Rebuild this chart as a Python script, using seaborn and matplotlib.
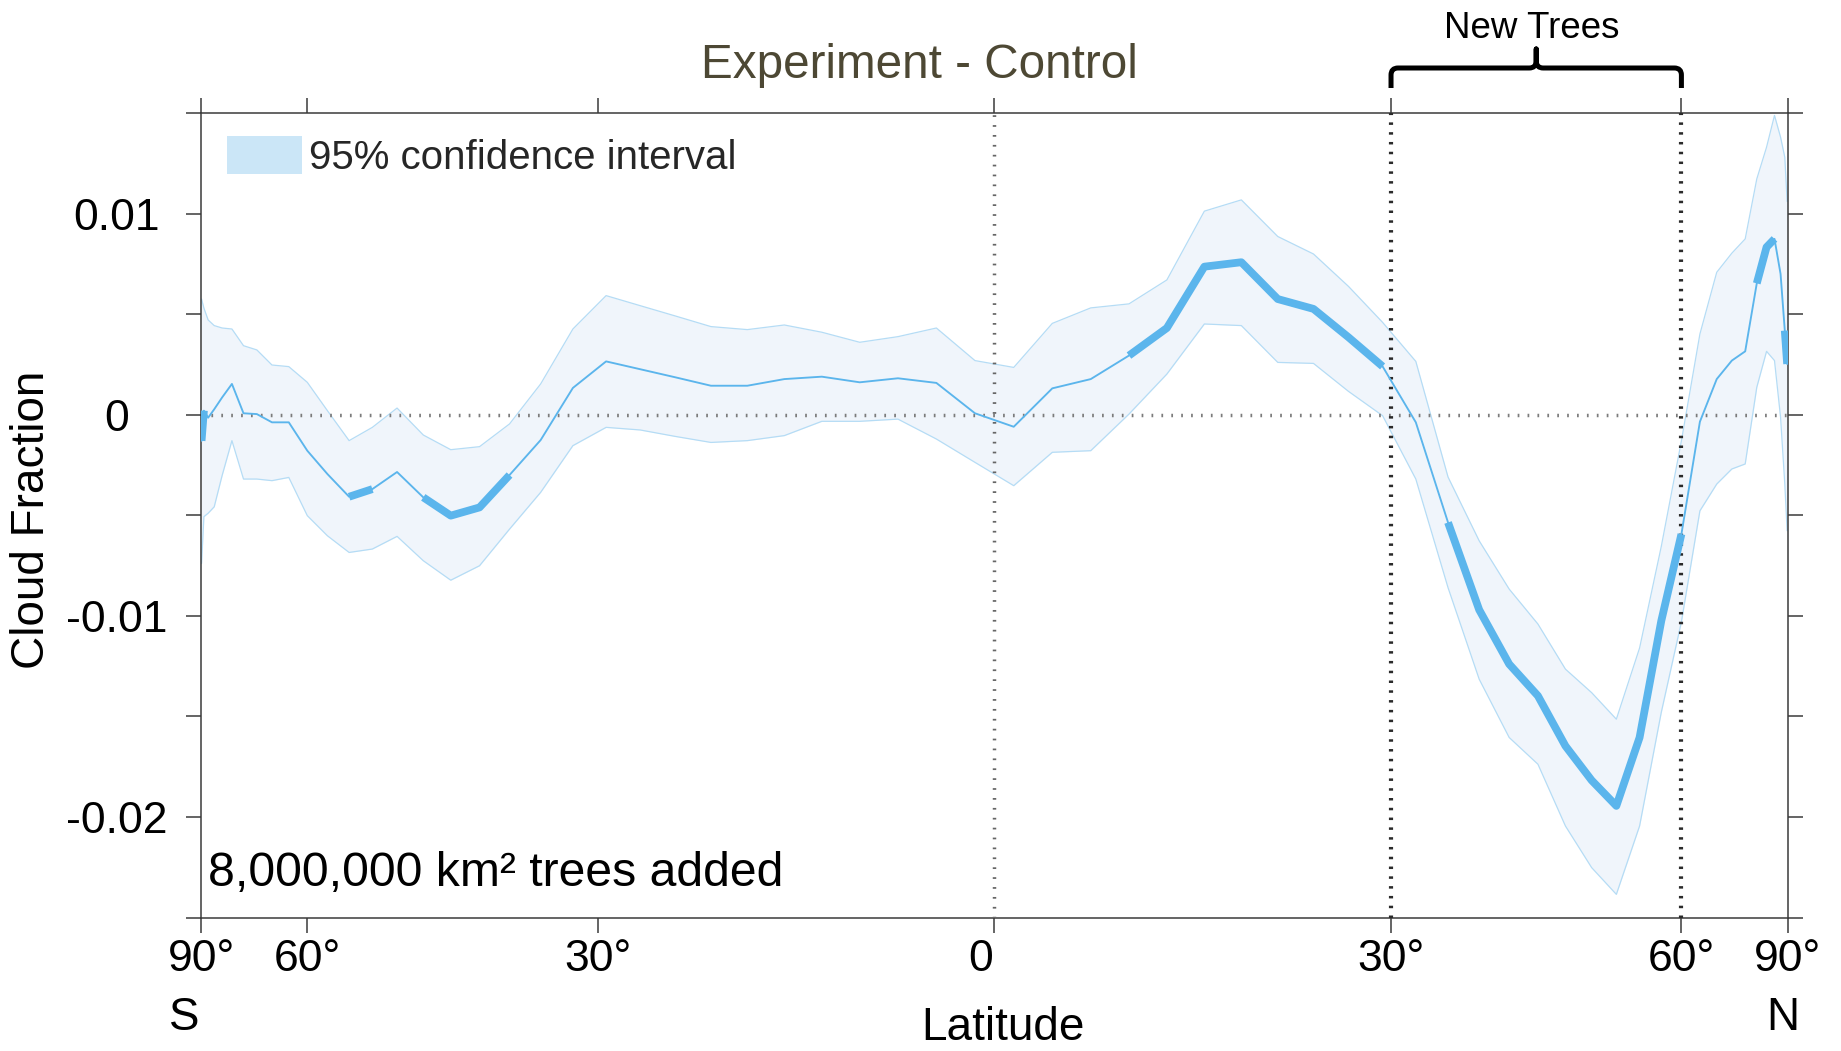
import numpy as np
import pandas as pd
import matplotlib
matplotlib.use("Agg")
import matplotlib.pyplot as plt
import seaborn as sns
from matplotlib.patches import Patch, PathPatch
from matplotlib.path import Path
from matplotlib.transforms import ScaledTranslation

# ---------------- data ----------------
latitude = [-87.86, -85.10, -82.31, -79.53, -76.74, -73.95, -71.16, -68.37, -65.58, -62.79,
            -60.00, -57.21, -54.42, -51.63, -48.84, -46.04, -43.25, -40.46, -37.67, -34.88,
            -32.09, -29.30, -26.51, -23.72, -20.93, -18.14, -15.35, -12.56, -9.77, -6.98,
            -4.19, -1.40, 1.40, 4.19, 6.98, 9.77, 12.56, 15.35, 18.14, 20.93,
            23.72, 26.51, 29.30, 32.09, 34.88, 37.67, 40.46, 43.25, 46.04, 48.84,
            51.63, 54.42, 57.21, 60.00, 62.79, 65.58, 68.37, 71.16, 73.95, 76.74,
            79.53, 82.31, 85.10, 87.86]

cloud_diff = [-0.00130, 0.00020, -0.00015, 0.00027, 0.00086, 0.00153, 0.00007, 0.00003, -0.00038, -0.00038,
              -0.00179, -0.00295, -0.00408, -0.00370, -0.00285, -0.00411, -0.00502, -0.00461, -0.00300, -0.00126,
              0.00133, 0.00265, 0.00226, 0.00186, 0.00144, 0.00144, 0.00177, 0.00189, 0.00161, 0.00181,
              0.00158, 0.00007, -0.00060, 0.00131, 0.00177, 0.00294, 0.00431, 0.00736, 0.00758, 0.00575,
              0.00526, 0.00385, 0.00240, -0.00038, -0.00536, -0.00970, -0.01240, -0.01398, -0.01647, -0.01818,
              -0.01945, -0.01605, -0.01025, -0.00594, -0.00035, 0.00177, 0.00269, 0.00315, 0.00653, 0.00833,
              0.00874, 0.00700, 0.00418, 0.00252]

ci_upper = [0.00575, 0.00530, 0.00471, 0.00443, 0.00431, 0.00426, 0.00343, 0.00322, 0.00247, 0.00239,
            0.00161, 0.00020, -0.00129, -0.00063, 0.00033, -0.00101, -0.00174, -0.00159, -0.00046, 0.00153,
            0.00426, 0.00592, 0.00542, 0.00491, 0.00438, 0.00423, 0.00446, 0.00410, 0.00360, 0.00388,
            0.00431, 0.00269, 0.00235, 0.00454, 0.00531, 0.00551, 0.00670, 0.01012, 0.01068, 0.00886,
            0.00799, 0.00638, 0.00459, 0.00265, -0.00310, -0.00627, -0.00867, -0.01041, -0.01265, -0.01382,
            -0.01514, -0.01160, -0.00655, -0.00130, 0.00401, 0.00708, 0.00803, 0.00874, 0.01172, 0.01330,
            0.01488, 0.01380, 0.01280, 0.01060]

ci_lower = [-0.00740, -0.00507, -0.00490, -0.00458, -0.00302, -0.00129, -0.00320, -0.00320, -0.00328, -0.00312,
            -0.00502, -0.00602, -0.00685, -0.00668, -0.00605, -0.00726, -0.00823, -0.00751, -0.00569, -0.00386,
            -0.00154, -0.00063, -0.00076, -0.00108, -0.00138, -0.00129, -0.00104, -0.00033, -0.00033, -0.00022,
            -0.00121, -0.00237, -0.00353, -0.00187, -0.00179, 0.00003, 0.00202, 0.00451, 0.00443, 0.00260,
            0.00255, 0.00116, -0.00005, -0.00320, -0.00860, -0.01315, -0.01605, -0.01738, -0.02045, -0.02252,
            -0.02385, -0.02045, -0.01480, -0.01030, -0.00478, -0.00345, -0.00270, -0.00245, 0.00136, 0.00315,
            0.00269, -0.00013, -0.00345, -0.00577]

significant = [1, 1, 0, 0, 0, 0, 0, 0, 0, 0,
               0, 0, 1, 1, 0, 1, 1, 1, 1, 0,
               0, 0, 0, 0, 0, 0, 0, 0, 0, 0,
               0, 0, 0, 0, 0, 1, 1, 1, 1, 1,
               1, 1, 1, 0, 1, 1, 1, 1, 1, 1,
               1, 1, 1, 1, 0, 0, 0, 0, 1, 1,
               1, 0, 1, 1]

x_ticks = [-90, -60, -30, 0, 30, 60, 90]
x_ticklabels = ["90°", "60°", "30°", "0", "30°", "60°", "90°"]
y_ticks = [-0.025, -0.02, -0.015, -0.01, -0.005, 0.0, 0.005, 0.01, 0.015]
y_ticklabels = ["", "-0.02", "", "-0.01", "", "0", "", "0.01", ""]

# ---------------- style ----------------
sns.set_theme(style="ticks")
plt.rcParams['font.family'] = ['Liberation Sans', 'DejaVu Sans']

BLUE = '#5bb5ec'
FILL = '#f0f5fb'
EDGE = '#b5dcf5'
SPINE = '#3a3a3a'

df = pd.DataFrame({'lat': latitude, 'diff': cloud_diff, 'upper': ci_upper,
                   'lower': ci_lower, 'sig': significant})
# significant runs -> segment ids
run_id = (df['sig'] != df['sig'].shift()).cumsum()
sig_df = df[df['sig'] == 1].assign(seg=run_id[df['sig'] == 1])

W, H = 1841, 1051
fig = plt.figure(figsize=(W / 100, H / 100), dpi=100)
fig.patch.set_facecolor('white')
ax = fig.add_axes([201 / W, (H - 917.5) / H, 1586.7 / W, 804.5 / H])
ax.set_facecolor('white')


def _fwd(x):
    return np.sin(np.deg2rad(np.clip(x, -90, 90)))


def _inv(y):
    return np.rad2deg(np.arcsin(np.clip(y, -1, 1)))


ax.set_xscale('function', functions=(_fwd, _inv))
ax.set_xlim(-90, 90)
ax.set_ylim(-0.025, 0.015)

# confidence band
ax.fill_between(df['lat'], df['lower'], df['upper'], color=FILL, lw=0, zorder=1)
sns.lineplot(data=df, x='lat', y='upper', estimator=None, sort=False, color=EDGE, lw=0.9, ax=ax, zorder=2)
sns.lineplot(data=df, x='lat', y='lower', estimator=None, sort=False, color=EDGE, lw=0.9, ax=ax, zorder=2)

# reference lines
ax.axhline(0, color='#7c7c7c', lw=2.5, ls=(0, (0.5, 2.35)), zorder=3)
ax.axvline(0, color='#666666', lw=2.5, ls=(0, (0.5, 2.35)), zorder=3)
for xv in (30, 60):
    ax.axvline(xv, color='#2a2a2a', lw=3.0, ls=(0, (0.6, 1.75)), zorder=3)

# mean difference, thin + thick where significant
sns.lineplot(data=df, x='lat', y='diff', estimator=None, sort=False, color=BLUE, lw=1.35, ax=ax, zorder=5)
sns.lineplot(data=sig_df, x='lat', y='diff', units='seg', estimator=None, sort=False,
             color=BLUE, lw=5.6, ax=ax, zorder=6, solid_capstyle='butt')

# axes, ticks
for s in ax.spines.values():
    s.set_visible(True)
    s.set_color(SPINE)
    s.set_linewidth(1.1)
ax.set_xticks(x_ticks)
ax.set_xticklabels(x_ticklabels)
ax.set_yticks(y_ticks)
ax.set_yticklabels(y_ticklabels)
ax.tick_params(which='both', direction='out', length=10.8, width=1.1, color=SPINE,
               top=True, right=True, labeltop=False, labelright=False, labelcolor='black')
ax.tick_params(axis='x', labelsize=32, pad=5)
ax.tick_params(axis='y', labelsize=32, pad=50)
for t in ax.get_yticklabels():
    t.set_ha('center')
zero_lab = ax.get_xticklabels()[3]
zero_lab.set_transform(zero_lab.get_transform() + ScaledTranslation(-14 / 100, 0, fig.dpi_scale_trans))

ax.set_xlabel('Latitude', fontsize=33, color='black')
ax.xaxis.set_label_coords((1003 - 201) / 1586.7, (917.5 - 1040) / 804.5)
ax.xaxis.label.set_va('baseline')
ax.set_ylabel('Cloud Fraction', fontsize=33, color='black')
ax.yaxis.set_label_coords((32 - 201) / 1586.7, (917.5 - 520) / 804.5)
ax.yaxis.label.set_va('center')

# legend
ax.legend(handles=[Patch(facecolor='#cbe6f7', edgecolor='none', label='95% confidence interval')],
          loc='upper left', bbox_to_anchor=((227 - 201) / 1586.7, 1 - (136 - 113) / 804.5),
          frameon=False, fontsize=29, handlelength=1.86, handleheight=1.08,
          handletextpad=0.17, borderpad=0, borderaxespad=0)

ax.text((208 - 201) / 1586.7, (917.5 - 886) / 804.5, '8,000,000 km² trees added',
        transform=ax.transAxes, fontsize=34.7, ha='left', va='baseline', color='black')

# figure texts
fig.text(919.5 / W, 1 - 78 / H, 'Experiment - Control', ha='center', va='baseline',
         fontsize=34.3, color='#4d4834')
fig.text(1532 / W, 1 - 38 / H, 'New Trees', ha='center', va='baseline', fontsize=26.5, color='black')
fig.text(184 / W, 1 - 1030 / H, 'S', ha='center', va='baseline', fontsize=33, color='black')
fig.text(1783 / W, 1 - 1030 / H, 'N', ha='center', va='baseline', fontsize=33, color='black')

# brace over the new-trees band (between the 30N and 60N lines)
xl = ax.transData.transform((30, 0))[0]
xr = ax.transData.transform((60, 0))[0]
xm = 0.5 * (xl + xr)
yh, ye, yt, r = H - 68, H - 88, H - 49, 7
verts = [(xl, ye), (xl, yh - r), (xl, yh), (xl + r, yh), (xm - r, yh), (xm, yh), (xm, yh + r),
         (xm, yt), (xm, yh + r), (xm, yh), (xm + r, yh), (xr - r, yh), (xr, yh), (xr, yh - r), (xr, ye)]
codes = [Path.MOVETO, Path.LINETO, Path.CURVE3, Path.CURVE3, Path.LINETO, Path.CURVE3, Path.CURVE3,
         Path.LINETO, Path.LINETO, Path.CURVE3, Path.CURVE3, Path.LINETO, Path.CURVE3, Path.CURVE3, Path.LINETO]
verts = [(vx / W, vy / H) for vx, vy in verts]
fig.add_artist(PathPatch(Path(verts, codes), transform=fig.transFigure, fill=False,
                         lw=3.6, edgecolor='black', capstyle='butt', joinstyle='round'))

fig.savefig('out.png', dpi=100, facecolor='white')
